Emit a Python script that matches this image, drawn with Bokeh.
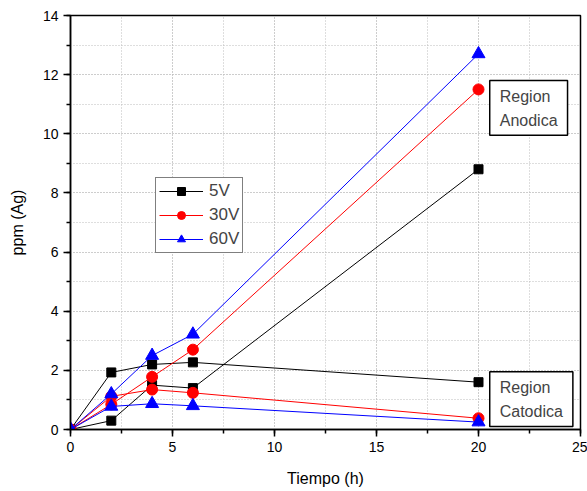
from bokeh.plotting import figure
from bokeh.models import Legend, LegendItem, Label, SingleIntervalTicker, Range1d
from bokeh.embed import file_html
from bokeh.resources import INLINE

time_h = [0, 2, 4, 6, 20]
v5_anodica = [0, 0.30, 1.50, 1.40, 8.80]
v5_catodica = [0, 1.93, 2.20, 2.27, 1.60]
v30_anodica = [0, 0.85, 1.78, 2.70, 11.50]
v30_catodica = [0, 1.12, 1.35, 1.24, 0.38]
v60_anodica = [0, 1.20, 2.50, 3.22, 12.70]
v60_catodica = [0, 0.78, 0.87, 0.80, 0.25]

x_ticks = [0, 5, 10, 15, 20, 25]
y_ticks = [0, 2, 4, 6, 8, 10, 12, 14]

FONT = "Liberation Sans"

p = figure(width=587, height=491, output_backend="svg", toolbar_location=None,
           x_range=Range1d(0, 25), y_range=Range1d(0, 14),
           min_border_left=70, min_border_top=15, min_border_right=7, min_border_bottom=62)
p.outline_line_color = "black"
p.outline_line_width = 1.5

for ax, ticks in ((p.xaxis, x_ticks), (p.yaxis, y_ticks)):
    ax.ticker = SingleIntervalTicker(interval=ticks[1] - ticks[0], num_minor_ticks=2)
    ax.axis_line_width = 1.5
    ax.major_tick_line_width = 1.5
    ax.minor_tick_line_width = 1.5
    ax.major_tick_in = 0
    ax.major_tick_out = 7
    ax.minor_tick_in = 0
    ax.minor_tick_out = 4
    ax.major_label_text_font = FONT
    ax.major_label_text_font_size = "14px"
    ax.major_label_text_color = "black"
    ax.axis_label_text_font = FONT
    ax.axis_label_text_font_size = "16px"
    ax.axis_label_text_font_style = "normal"
    ax.axis_label_text_color = "black"

p.xaxis.axis_label = "Tiempo (h)"
p.yaxis.axis_label = "ppm (Ag)"
p.yaxis.major_label_orientation = "horizontal"
p.xaxis.axis_label_standoff = 15
p.yaxis.axis_label_standoff = 14

for g in (p.xgrid, p.ygrid):
    g.grid_line_color = "#bdbdbd"
    g.grid_line_dash = "1 2"
    g.grid_line_width = 1
    g.minor_grid_line_color = "#bdbdbd"
    g.minor_grid_line_dash = "1 2"
    g.minor_grid_line_width = 1

series = [
    ("5V", "black", "square", 9, v5_anodica, v5_catodica),
    ("30V", "red", "circle", 11, v30_anodica, v30_catodica),
    ("60V", "blue", "triangle", 13, v60_anodica, v60_catodica),
]

items = []
for label, color, marker, size, an, ca in series:
    rs = []
    for ys in (an, ca):
        l = p.line(time_h, ys, line_color=color, line_width=1)
        s = p.scatter(time_h, ys, marker=marker, size=size, fill_color=color, line_color=color)
        rs.extend([l, s])
    items.append(LegendItem(label=label, renderers=rs[:2]))

legend = Legend(items=items, location=(85, 176), label_text_font=FONT,
                label_text_font_size="17px", glyph_width=44, glyph_height=20,
                label_standoff=6, spacing=4, padding=3, margin=0,
                border_line_color="black", border_line_width=1.5,
                background_fill_alpha=1.0, label_height=20)
p.add_layout(legend)

for txt, yv in (("Region\nAnodica", 11.8), ("Region\nCatodica", 1.95)):
    p.add_layout(Label(x=20.55, y=yv, text=txt, anchor="top_left",
                       text_font=FONT, text_font_size="16px", text_line_height=1.45,
                       padding=dict(left=10, right=10, top=7, bottom=6),
                       border_line_color="black", border_line_width=1.5,
                       background_fill_color="white"))

open("out.html", "w").write(file_html(p, INLINE))
